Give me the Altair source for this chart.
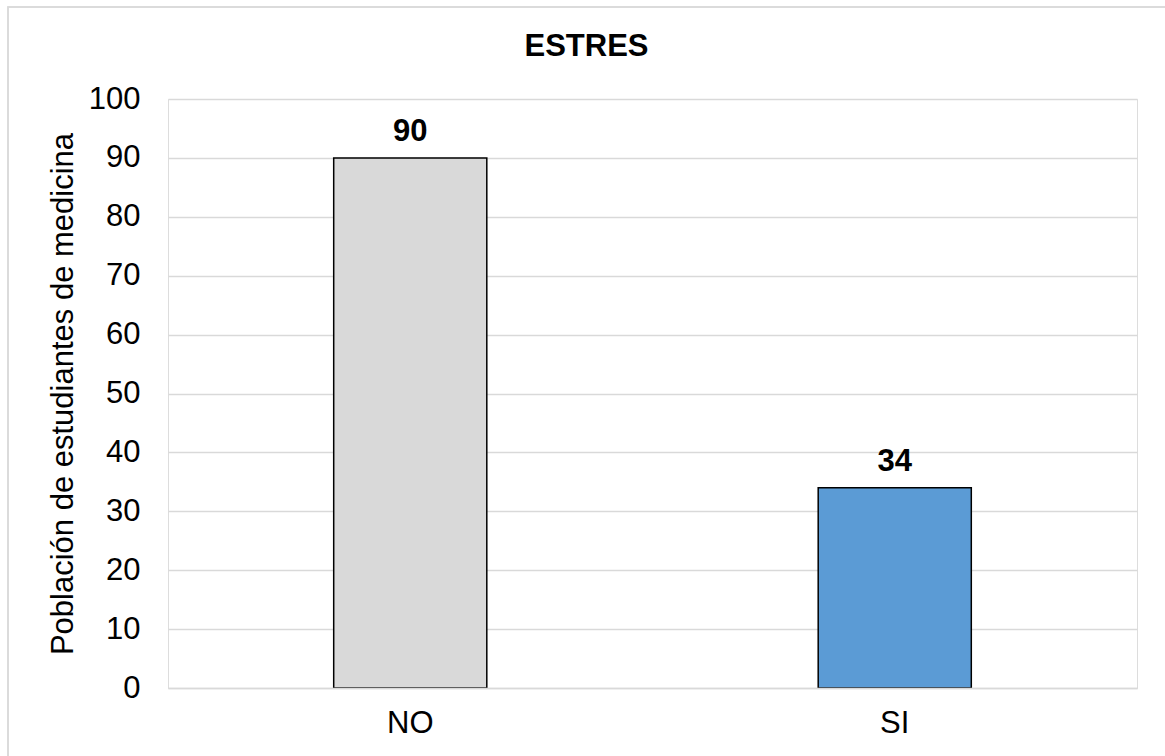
import altair as alt
import pandas as pd

# Stress survey: students answering NO / SI
categories = ["NO", "SI"]
counts = [90, 34]
bar_colors = ["#d9d9d9", "#5b9bd5"]

df = pd.DataFrame({"respuesta": categories, "poblacion": counts})

FONT = "Liberation Sans"
GRID = "#d9d9d9"

x_enc = alt.X(
    "respuesta:N",
    sort=categories,
    scale=alt.Scale(paddingInner=0.684, paddingOuter=0.342),
    axis=alt.Axis(
        title=None,
        labelAngle=0,
        labelFont=FONT,
        labelFontSize=31,
        labelColor="#000000",
        labelPadding=20,
        ticks=False,
        domain=True,
        domainColor=GRID,
        domainWidth=1.5,
        zindex=1,
    ),
)

y_enc = alt.Y(
    "poblacion:Q",
    scale=alt.Scale(domain=[0, 100], nice=False),
    axis=alt.Axis(
        values=list(range(0, 101, 10)),
        title="Población de estudiantes de medicina",
        titleFont=FONT,
        titleFontSize=31,
        titleFontWeight="normal",
        titleColor="#000000",
        titleAngle=270,
        titleAlign="center",
        titleBaseline="alphabetic",
        titleX=-96,
        titleY=294.5,
        labelFont=FONT,
        labelFontSize=31,
        labelColor="#000000",
        labelPadding=28,
        ticks=False,
        domain=False,
        grid=True,
        gridColor=GRID,
        gridWidth=1.5,
    ),
)

bars = alt.Chart(df).mark_bar(stroke="#000000", strokeWidth=1.5).encode(
    x=x_enc,
    y=y_enc,
    color=alt.Color(
        "respuesta:N",
        scale=alt.Scale(domain=categories, range=bar_colors),
        legend=None,
    ),
)

labels = alt.Chart(df).mark_text(
    font=FONT,
    fontSize=31,
    fontWeight="bold",
    color="#000000",
    baseline="alphabetic",
    dy=-17,
).encode(
    x=alt.X("respuesta:N", sort=categories),
    y=alt.Y("poblacion:Q"),
    text=alt.Text("poblacion:Q"),
)

# light frame around the whole figure
frame = alt.Chart(df).mark_rect(
    fill="transparent", stroke=GRID, strokeWidth=1.5, clip=False
).encode(
    x=alt.value(-160), x2=alt.value(1010),
    y=alt.value(-92), y2=alt.value(670),
)

chart = (
    alt.layer(frame, bars, labels)
    .properties(
        width=969,
        height=589,
        autosize=alt.AutoSizeParams(type="none"),
        padding={"left": 168, "top": 99, "right": 28, "bottom": 68},
        title=alt.Title(
            "ESTRES",
            font=FONT,
            fontSize=31,
            fontWeight="bold",
            color="#000000",
            anchor="middle",
            baseline="alphabetic",
            dx=-66,
            offset=-81,
        ),
    )
    .configure_view(stroke=None)
    .configure(background="#ffffff")
)

chart.save("out.html", embed_options={"renderer": "svg", "actions": False})
